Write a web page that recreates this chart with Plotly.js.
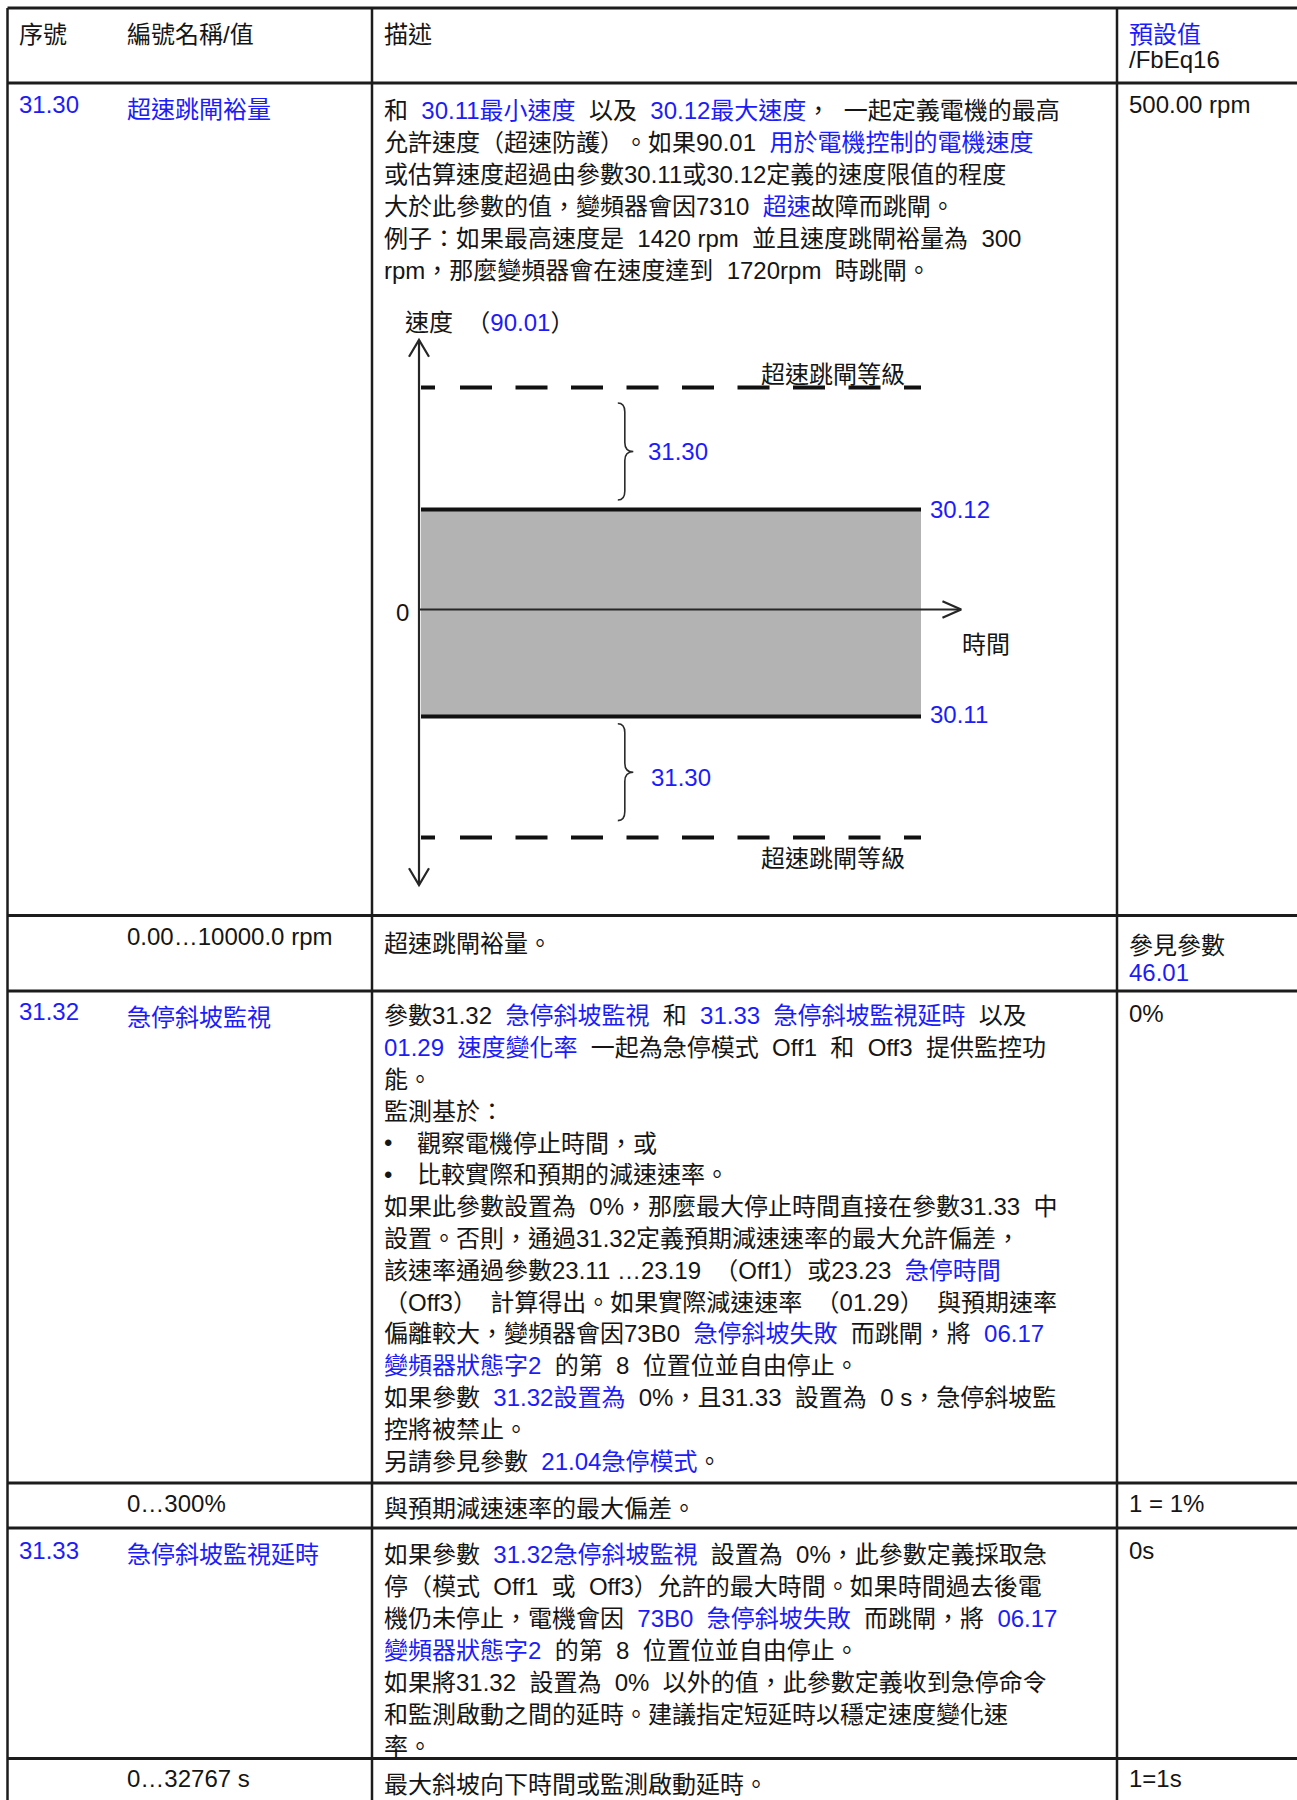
<!DOCTYPE html>
<html><head><meta charset="utf-8">
<script src="https://cdn.plot.ly/plotly-3.0.1.min.js"></script>
<style>
html,body{margin:0;padding:0;background:#fff}
text, tspan {text-spacing-trim:space-all;}
</style>
</head><body>
<div id="chart" style="width:1297px;height:1800px"></div>
<script>
// ================= DATA =================
// {...} marks a blue cross-reference link
const headerLabels = ['序號', '編號名稱/值', '描述', '{預設值}', '/FbEq16'];
const rowIds = ['{31.30}', '', '{31.32}', '', '{31.33}', ''];
const rowNames = ['{超速跳閘裕量}', '0.00…10000.0 rpm', '{急停斜坡監視}', '0…300%', '{急停斜坡監視延時}', '0…32767 s'];
const rowDefaults = [['500.00 rpm'], ['參見參數', '{46.01}'], ['0%'], ['1 = 1%'], ['0s'], ['1=1s']];

const desc3130 = [
  '和  {30.11最小速度}  以及  {30.12最大速度}，  一起定義電機的最高',
  '允許速度（超速防護）。如果90.01  {用於電機控制的電機速度}',
  '或估算速度超過由參數30.11或30.12定義的速度限值的程度',
  '大於此參數的值，變頻器會因7310  {超速}故障而跳閘。',
  '例子：如果最高速度是  1420 rpm  並且速度跳閘裕量為  300',
  'rpm，那麼變頻器會在速度達到  1720rpm  時跳閘。'
];
const desc3130Range = ['超速跳閘裕量。'];
const desc3132 = [
  '參數31.32  {急停斜坡監視}  和  {31.33  急停斜坡監視延時}  以及',
  '{01.29  速度變化率}  一起為急停模式  Off1  和  Off3  提供監控功',
  '能。',
  '監測基於：',
  '• 觀察電機停止時間，或',
  '• 比較實際和預期的減速速率。',
  '如果此參數設置為  0%，那麼最大停止時間直接在參數31.33  中',
  '設置。否則，通過31.32定義預期減速速率的最大允許偏差，',
  '該速率通過參數23.11 …23.19  （Off1）或23.23  {急停時間}',
  '（Off3）  計算得出。如果實際減速速率  （01.29）  與預期速率',
  '偏離較大，變頻器會因73B0  {急停斜坡失敗}  而跳閘，將  {06.17}',
  '{變頻器狀態字2}  的第  8  位置位並自由停止。',
  '如果參數  {31.32設置為}  0%，且31.33  設置為  0 s，急停斜坡監',
  '控將被禁止。',
  '另請參見參數  {21.04急停模式}。'
];
const desc3132Range = ['與預期減速速率的最大偏差。'];
const desc3133 = [
  '如果參數  {31.32急停斜坡監視}  設置為  0%，此參數定義採取急',
  '停（模式  Off1  或  Off3）允許的最大時間。如果時間過去後電',
  '機仍未停止，電機會因  {73B0  急停斜坡失敗}  而跳閘，將  {06.17}',
  '{變頻器狀態字2}  的第  8  位置位並自由停止。',
  '如果將31.32  設置為  0%  以外的值，此參數定義收到急停命令',
  '和監測啟動之間的延時。建議指定短延時以穩定速度變化速',
  '率。'
];
const desc3133Range = ['最大斜坡向下時間或監測啟動延時。'];
const rowDescriptions = [desc3130, desc3130Range, desc3132, desc3132Range, desc3133, desc3133Range];

// ---- speed / time diagram (relative units) ----
const levelNames  = ['超速跳閘等級', '{30.12}', '{30.11}', '超速跳閘等級'];
const levelSpeeds = [2.22, 1.0, -1.07, -2.28];
const levelKinds  = ['trip', 'limit', 'limit', 'trip'];
const levelTime   = [0.004, 1.0];          // start / end of drawn time span
const axisTimeEnd = 1.08;
const axisSpeedEnds = [-2.755, 2.695];
const marginBraces = [[2.065, 1.095], [-1.143, -2.111]];  // spans labelled 31.30
const marginLabel = '{31.30}';
const braceTime = 0.41;
const speedAxisTitle = '速度  （{90.01}）';
const timeAxisTitle = '時間';
const zeroLabel = '0';

// ================= STYLE / LAYOUT =================
const BLUE = '#1c1cfa';
const INK = '#151515';
const GRID = '#1c1c1c';
const FONT = 'Liberation Sans, Arial, Noto Sans CJK TC, sans-serif';
const FS = 24;
const W = 1297, H = 1800;
const hLines = [8, 83, 915.5, 991, 1483, 1528, 1758.5];
const vLines = [7.5, 372, 1117];
const colX = [19, 126.5, 383.5, 1129];
const bulletTextX = 416.5;
const headerY = [34, 34, 34, 33.3, 59];
const rowTextY = [
  {id:104.5, name:109, desc:110, step:32, def:[104]},
  {id:0, name:936, desc:942.5, step:32, def:[944.5, 972]},
  {id:1011, name:1017, desc:1015, step:31.8, def:[1013.5]},
  {id:0, name:1503, desc:1508, step:32, def:[1503]},
  {id:1550, name:1554, desc:1554, step:32, def:[1550]},
  {id:0, name:1778, desc:1784, step:32, def:[1778]}
];
const CJK_SHIFT = 0.8;   // px, visual-centre correction for lines with CJK glyphs
// diagram frame (pixels) and scale
const DG = {left:400, right:1000, top:330, bottom:900, t0px:419, tScale:502, v0px:609.5, vScale:100};
const pxT = p => p / DG.tScale;   // pixel length -> time units
const pxV = p => p / DG.vScale;   // pixel length -> speed units

function rich(s) {
  return s.replace(/ /g, '\u00a0').replace(/\{([^}]*)\}/g, '<span style="color:' + BLUE + '">$1</span>');
}
const CJK = /[\u3000-\u9fff\uff00-\uffef]/;
function note(x, y, s, extra) {
  const a = {
    xref:'x', yref:'y', x:x, y: y + (CJK.test(s) ? CJK_SHIFT : 0), text: rich(s), showarrow:false,
    xanchor:'left', yanchor:'middle', borderpad:0, borderwidth:0,
    font:{family:FONT, size:FS, color:INK}
  };
  return Object.assign(a, extra || {});
}

const annotations = [];
// header
headerLabels.forEach((s, i) => {
  const x = i < 3 ? colX[i] : colX[3];
  annotations.push(note(x, headerY[i], s));
});
// rows
rowIds.forEach((id, r) => {
  const ty = rowTextY[r];
  if (id) annotations.push(note(colX[0], ty.id, id));
  annotations.push(note(colX[1], ty.name, rowNames[r]));
  rowDescriptions[r].forEach((line, k) => {
    const y = ty.desc + k * ty.step;
    if (line.startsWith('• ')) {
      annotations.push(note(colX[2], y, '•'));
      annotations.push(note(bulletTextX, y, line.slice(2)));
    } else {
      annotations.push(note(colX[2], y, line));
    }
  });
  rowDefaults[r].forEach((d, k) => annotations.push(note(colX[3], ty.def[k], d)));
});

// table grid lines as traces in page coordinates
const hx = [], hy = [], vx = [], vy = [];
hLines.forEach(y => { hx.push(vLines[0], W, null); hy.push(y, y, null); });
vLines.forEach(x => { vx.push(x, x, null); vy.push(hLines[0], H, null); });
const traces = [
  {type:'scatter', mode:'lines', x:hx, y:hy, line:{color:GRID, width:3}, hoverinfo:'skip', showlegend:false, xaxis:'x', yaxis:'y'},
  {type:'scatter', mode:'lines', x:vx, y:vy, line:{color:GRID, width:2.5}, hoverinfo:'skip', showlegend:false, xaxis:'x', yaxis:'y'}
];

// ---- diagram traces ----
const dd = {xaxis:'x2', yaxis:'y2', hoverinfo:'skip', showlegend:false, type:'scatter', mode:'lines'};
const limitIdx = levelKinds.map((k, i) => k === 'limit' ? i : -1).filter(i => i >= 0);
const hi = levelSpeeds[limitIdx[0]], lo = levelSpeeds[limitIdx[1]];
traces.push(Object.assign({}, dd, {
  x:[levelTime[0], levelTime[1], levelTime[1], levelTime[0], levelTime[0]],
  y:[lo, lo, hi, hi, lo], fill:'toself', fillcolor:'#b3b3b3', line:{width:0, color:'rgba(0,0,0,0)'}
}));
let dash = '14px,25px';
for (let i = 0; i < 10; i++) dash += ',32px,23.5px';
levelSpeeds.forEach((v, i) => {
  traces.push(Object.assign({}, dd, {
    x:[levelTime[0], levelTime[1]], y:[v, v],
    line: levelKinds[i] === 'trip' ? {color:'#111', width:4, dash:dash} : {color:'#111', width:4}
  }));
});
// axes with open arrow heads
const axisStyle = {color:'#262626', width:2.2};
traces.push(Object.assign({}, dd, {x:[0, 0], y:axisSpeedEnds, line:axisStyle}));
traces.push(Object.assign({}, dd, {x:[0, axisTimeEnd], y:[0, 0], line:axisStyle}));
const vTop = axisSpeedEnds[1], vBot = axisSpeedEnds[0];
traces.push(Object.assign({}, dd, {
  x:[-pxT(10), 0, pxT(10), null, -pxT(10), 0, pxT(10), null, axisTimeEnd - pxT(18.7), axisTimeEnd, axisTimeEnd - pxT(18.7)],
  y:[vTop - pxV(16.7), vTop, vTop - pxV(16.7), null, vBot + pxV(16.7), vBot, vBot + pxV(16.7), null, pxV(8.3), 0, -pxV(8.3)],
  line:axisStyle
}));

// braces (curly) for the 31.30 margins
const shapes = marginBraces.map(b => {
  const yt = b[0], yb = b[1], ym = (yt + yb) / 2;
  const xl = braceTime - pxT(7), xm = braceTime, xt = braceTime + pxT(8.5), r = pxV(9);
  const d = `M${xl},${yt} Q${xm},${yt} ${xm},${yt - r} L${xm},${ym + r} Q${xm},${ym} ${xt},${ym} ` +
            `Q${xm},${ym} ${xm},${ym - r} L${xm},${yb + r} Q${xm},${yb} ${xl},${yb}`;
  return {type:'path', xref:'x2', yref:'y2', path:d, line:{color:'#2a2a2a', width:1.6}};
});

// diagram labels
function dnote(x, y, s, extra) {
  const a = note(x, y, s, extra);
  a.xref = 'x2'; a.yref = 'y2'; a.y = y;
  if (CJK.test(s)) a.yshift = (a.yshift || 0) - CJK_SHIFT;
  return a;
}
annotations.push(dnote(0, vTop, speedAxisTitle, {xshift:-14, yshift:18}));
annotations.push(dnote(0, 0, zeroLabel, {xanchor:'right', xshift:-10, yshift:-2.5}));
annotations.push(dnote(axisTimeEnd, 0, timeAxisTitle, {xshift:1, yshift:-34}));
levelSpeeds.forEach((v, i) => {
  if (levelKinds[i] === 'limit') {
    annotations.push(dnote(levelTime[1], v, levelNames[i], {xshift:9, yshift: i === 1 ? 0 : 2.5}));
  } else {
    annotations.push(dnote(levelTime[1], v, levelNames[i], {xanchor:'right', xshift:-16, yshift: i === 0 ? 13.5 : -20.5}));
  }
});
marginBraces.forEach((b, i) => {
  annotations.push(dnote(braceTime, (b[0] + b[1]) / 2, marginLabel, {xshift: i === 0 ? 23 : 26, yshift: i === 0 ? 0 : -4.8}));
});

const layout = {
  width:W, height:H, margin:{l:0, r:0, t:0, b:0, pad:0},
  paper_bgcolor:'#ffffff', plot_bgcolor:'rgba(0,0,0,0)', showlegend:false,
  xaxis:{range:[0, W], visible:false, fixedrange:true},
  yaxis:{range:[H, 0], visible:false, fixedrange:true},
  xaxis2:{domain:[DG.left / W, DG.right / W], range:[(DG.left - DG.t0px) / DG.tScale, (DG.right - DG.t0px) / DG.tScale],
          visible:false, anchor:'y2', fixedrange:true},
  yaxis2:{domain:[(H - DG.bottom) / H, (H - DG.top) / H], range:[(DG.v0px - DG.bottom) / DG.vScale, (DG.v0px - DG.top) / DG.vScale],
          visible:false, anchor:'x2', fixedrange:true},
  annotations:annotations, shapes:shapes
};
Plotly.newPlot('chart', traces, layout, {staticPlot:true, displayModeBar:false});
</script>
</body></html>
